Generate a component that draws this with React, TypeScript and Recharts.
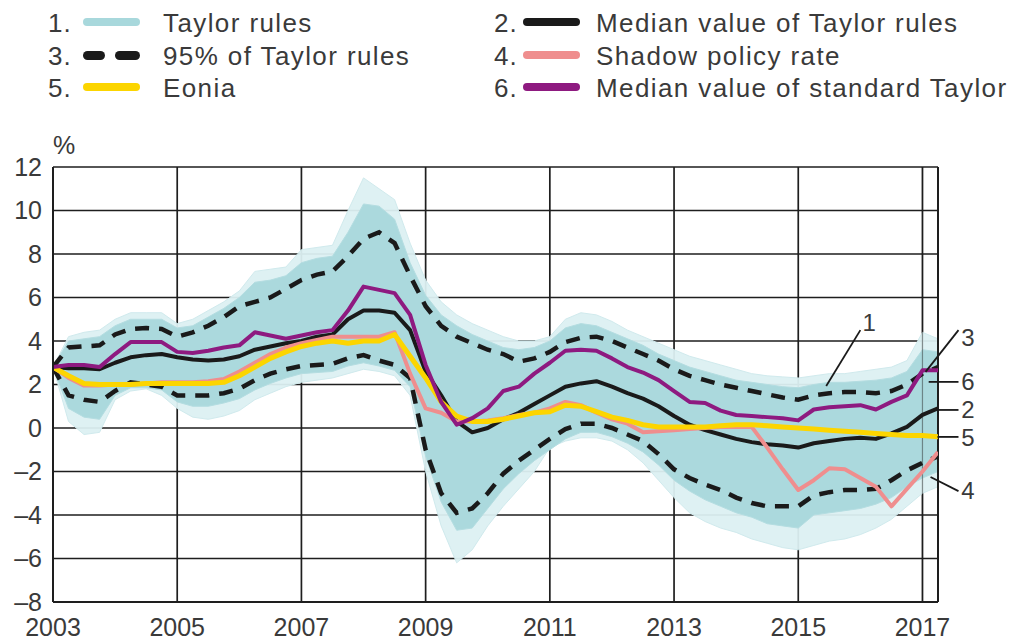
import React from 'react';
import {
  ComposedChart, Line, Area, XAxis, YAxis, CartesianGrid, ReferenceLine, ReferenceDot,
} from 'recharts';

// quarterly observations, 2003Q1 .. 2017Q2
const quarters = [
  2003, 2003.25, 2003.5, 2003.75, 2004, 2004.25, 2004.5, 2004.75,
  2005, 2005.25, 2005.5, 2005.75, 2006, 2006.25, 2006.5, 2006.75,
  2007, 2007.25, 2007.5, 2007.75, 2008, 2008.25, 2008.5, 2008.75,
  2009, 2009.25, 2009.5, 2009.75, 2010, 2010.25, 2010.5, 2010.75,
  2011, 2011.25, 2011.5, 2011.75, 2012, 2012.25, 2012.5, 2012.75,
  2013, 2013.25, 2013.5, 2013.75, 2014, 2014.25, 2014.5, 2014.75,
  2015, 2015.25, 2015.5, 2015.75, 2016, 2016.25, 2016.5, 2016.75,
  2017, 2017.25,
];

// 1. Taylor rules fan: outer envelope (faint fringe) and dense core
const fanMax = [2.8, 4.2, 4.4, 4.5, 5.0, 5.3, 5.3, 5.3, 4.8, 5.0, 5.4, 5.8, 6.3, 7.2, 7.3, 7.4, 8.2, 8.3, 8.4, 10.0, 11.5, 11.0, 10.5, 8.5, 6.8, 5.8, 5.2, 4.8, 4.5, 4.2, 4.0, 4.0, 4.2, 5.0, 5.3, 5.2, 4.9, 4.5, 4.2, 3.9, 3.6, 3.3, 3.1, 2.9, 2.7, 2.5, 2.4, 2.35, 2.3, 2.4, 2.5, 2.5, 2.6, 2.7, 2.8, 3.1, 4.4, 4.1];
const fanMin = [2.8, 0.3, -0.3, -0.2, 1.3, 1.7, 1.8, 1.5, 0.9, 0.5, 0.4, 0.55, 0.8, 1.3, 1.6, 1.9, 2.1, 2.2, 2.3, 2.5, 2.7, 2.6, 2.4, 1.5, -2.0, -4.5, -6.2, -5.6, -4.5, -3.6, -2.8, -2.0, -0.9, -0.6, -0.45, -0.45, -0.6, -1.0, -1.6, -2.4, -3.2, -3.9, -4.3, -4.6, -4.8, -5.1, -5.3, -5.5, -5.6, -5.4, -5.2, -5.1, -4.9, -4.6, -4.2, -3.6, -3.0, -2.7];
const coreHigh = [2.8, 4.0, 4.1, 4.2, 4.7, 5.0, 5.0, 5.0, 4.6, 4.7, 5.1, 5.5, 6.0, 6.7, 6.8, 7.0, 7.6, 7.8, 7.9, 9.0, 10.3, 10.2, 9.6, 7.6, 6.1, 5.2, 4.7, 4.3, 4.0, 3.7, 3.6, 3.7, 4.0, 4.6, 4.8, 4.7, 4.4, 4.1, 3.8, 3.4, 3.1, 2.8, 2.6, 2.4, 2.2, 2.1, 2.0, 1.9, 1.85, 2.0, 2.1, 2.1, 2.15, 2.2, 2.3, 2.6, 3.6, 3.5];
const coreLow = [2.8, 0.9, 0.5, 0.4, 1.5, 1.85, 1.85, 1.75, 1.2, 1.0, 1.0, 1.15, 1.35, 1.75, 2.05, 2.3, 2.5, 2.55, 2.6, 2.85, 3.0, 2.85, 2.65, 1.9, -1.3, -3.4, -4.7, -4.6, -3.7, -2.8, -2.1, -1.5, -1.0, -0.5, -0.2, -0.2, -0.4, -0.7, -1.1, -1.7, -2.4, -2.9, -3.3, -3.6, -3.9, -4.1, -4.4, -4.5, -4.6, -4.0, -3.9, -3.8, -3.7, -3.5, -3.2, -2.7, -2.3, -2.0];

// 2. Median value of Taylor rules
const medianTaylor = [2.8, 2.75, 2.75, 2.7, 3.0, 3.25, 3.35, 3.4, 3.25, 3.15, 3.1, 3.15, 3.3, 3.6, 3.75, 3.9, 4.0, 4.2, 4.3, 5.0, 5.4, 5.4, 5.3, 4.5, 2.6, 1.5, 0.3, -0.2, 0.0, 0.4, 0.7, 1.1, 1.5, 1.9, 2.05, 2.15, 1.9, 1.6, 1.35, 1.0, 0.55, 0.15, -0.1, -0.3, -0.5, -0.65, -0.75, -0.8, -0.9, -0.7, -0.6, -0.5, -0.45, -0.5, -0.25, 0.05, 0.6, 0.9];

// 3. 95% of Taylor rules (upper / lower)
const upper95 = [2.8, 3.7, 3.75, 3.8, 4.3, 4.55, 4.6, 4.55, 4.2, 4.4, 4.7, 5.1, 5.6, 5.8, 6.0, 6.4, 6.8, 7.05, 7.2, 7.9, 8.7, 9.0, 8.5, 7.0, 5.6, 4.7, 4.2, 3.9, 3.6, 3.4, 3.05, 3.2, 3.5, 3.95, 4.15, 4.2, 4.0, 3.7, 3.4, 3.1, 2.7, 2.4, 2.2, 2.0, 1.85, 1.7, 1.55, 1.4, 1.3, 1.5, 1.6, 1.65, 1.65, 1.6, 1.7, 2.0, 2.5, 2.8];
const lower95 = [2.8, 1.5, 1.3, 1.2, 1.7, 2.1, 2.0, 1.9, 1.5, 1.5, 1.5, 1.6, 1.8, 2.2, 2.5, 2.7, 2.85, 2.9, 2.95, 3.2, 3.35, 3.1, 2.9, 2.3, -1.0, -3.0, -3.9, -3.7, -3.0, -2.1, -1.5, -1.0, -0.5, -0.05, 0.2, 0.2, 0.0, -0.3, -0.6, -1.2, -1.9, -2.3, -2.6, -2.85, -3.2, -3.45, -3.6, -3.6, -3.6, -3.1, -2.95, -2.85, -2.85, -2.8, -2.4, -1.95, -1.6, -1.3];

// 4. Shadow policy rate
const shadowRate = [2.8, 2.3, 1.95, 1.95, 2.0, 2.0, 2.05, 2.1, 2.1, 2.1, 2.15, 2.25, 2.6, 3.0, 3.4, 3.7, 3.9, 4.05, 4.2, 4.2, 4.2, 4.2, 4.4, 2.5, 0.9, 0.7, 0.3, 0.3, 0.35, 0.45, 0.6, 0.7, 0.9, 1.2, 1.05, 0.7, 0.4, 0.2, -0.2, -0.15, -0.1, -0.05, 0.0, 0.05, 0.05, 0.05, -0.9, -1.9, -2.85, -2.4, -1.85, -1.9, -2.3, -2.7, -3.6, -2.8, -2.0, -1.1];

// 5. Eonia
const eonia = [2.8, 2.4, 2.05, 2.0, 2.0, 2.0, 2.05, 2.05, 2.05, 2.05, 2.05, 2.1, 2.4, 2.8, 3.2, 3.5, 3.75, 3.9, 4.0, 3.9, 4.0, 4.0, 4.3, 3.3, 2.3, 1.2, 0.55, 0.3, 0.3, 0.4, 0.55, 0.7, 0.75, 1.05, 1.0, 0.75, 0.5, 0.35, 0.15, 0.05, 0.05, 0.05, 0.05, 0.1, 0.15, 0.15, 0.1, 0.05, 0.0, -0.05, -0.1, -0.15, -0.2, -0.25, -0.3, -0.35, -0.35, -0.4];

// 6. Median value of standard Taylor
const medianStandard = [2.8, 2.9, 2.9, 2.8, 3.4, 3.95, 3.95, 3.95, 3.5, 3.45, 3.55, 3.7, 3.8, 4.4, 4.25, 4.1, 4.25, 4.4, 4.5, 5.4, 6.5, 6.35, 6.2, 5.2, 2.9, 1.2, 0.15, 0.45, 0.9, 1.7, 1.9, 2.5, 3.0, 3.55, 3.6, 3.55, 3.2, 2.8, 2.55, 2.2, 1.7, 1.2, 1.15, 0.8, 0.6, 0.55, 0.5, 0.45, 0.35, 0.85, 0.95, 1.0, 1.05, 0.85, 1.2, 1.5, 2.65, 2.65];

const xTicks = [2003, 2005, 2007, 2009, 2011, 2013, 2015, 2017];
const yTicks = [-8, -6, -4, -2, 0, 2, 4, 6, 8, 10, 12];

const legendItems = [
  { num: '1.', label: 'Taylor rules', color: '#a8d8dc', dashed: false },
  { num: '2.', label: 'Median value of Taylor rules', color: '#1a1a1a', dashed: false },
  { num: '3.', label: '95% of Taylor rules', color: '#1a1a1a', dashed: true },
  { num: '4.', label: 'Shadow policy rate', color: '#ef8e8e', dashed: false },
  { num: '5.', label: 'Eonia', color: '#fcd500', dashed: false },
  { num: '6.', label: 'Median value of standard Taylor', color: '#8e1a80', dashed: false },
];

// numbered call-outs on the right of the plot (data coordinates)
const callouts = [
  { label: '1', from: [2015.45, 1.93], to: [2016.0, 4.5], text: [2016.14, 4.85] },
  { label: '3', from: [2017.05, 2.58], to: [2017.58, 4.5], text: [2017.73, 4.18] },
  { label: '6', from: [2017.1, 2.12], to: [2017.58, 2.12], text: [2017.73, 2.12] },
  { label: '2', from: [2017.24, 0.83], to: [2017.58, 0.83], text: [2017.73, 0.83] },
  { label: '5', from: [2017.24, -0.41], to: [2017.58, -0.41], text: [2017.73, -0.45] },
  { label: '4', from: [2017.13, -2.25], to: [2017.58, -2.9], text: [2017.73, -2.85] },
];

const data = quarters.map((q, i) => ({
  q,
  outer: [fanMin[i], fanMax[i]],
  core: [coreLow[i], coreHigh[i]],
  median: medianTaylor[i],
  up: upper95[i],
  lo: lower95[i],
  shadow: shadowRate[i],
  eonia: eonia[i],
  std: medianStandard[i],
}));

const FONT = '"Liberation Sans", Arial, Helvetica, sans-serif';
const TEXT = '#3a3a3a';

const Swatch = ({ color, dashed }: { color: string; dashed: boolean }) =>
  dashed ? (
    <div style={{ position: 'relative', width: 57, height: 9 }}>
      <div style={{ position: 'absolute', left: 0, top: 0, width: 22, height: 9, borderRadius: 5, background: color }} />
      <div style={{ position: 'absolute', left: 32, top: 0, width: 25, height: 9, borderRadius: 5, background: color }} />
    </div>
  ) : (
    <div style={{ width: 57, height: 8, borderRadius: 4, background: color }} />
  );

const fmtY = (v: number) => (v < 0 ? '\u2013' + Math.abs(v) : String(v));

export default function App() {
  const rowTops = [10, 43, 75];
  return (
    <div style={{ position: 'absolute', left: 0, top: 0, width: 1015, height: 641, background: '#fff', fontFamily: FONT, overflow: 'hidden' }}>
      {legendItems.map((it, i) => {
        const col = i % 2;
        const row = Math.floor(i / 2);
        const numLeft = col === 0 ? 48 : 494;
        const swLeft = col === 0 ? 83 : 523;
        const txtLeft = col === 0 ? 163 : 596;
        const top = rowTops[row];
        return (
          <React.Fragment key={it.num}>
            <div style={{ position: 'absolute', left: numLeft, top, fontSize: 26, lineHeight: '26px', color: TEXT, letterSpacing: 1 }}>{it.num}</div>
            <div style={{ position: 'absolute', left: swLeft, top: top + 8 }}>
              <Swatch color={it.color} dashed={it.dashed} />
            </div>
            <div style={{ position: 'absolute', left: txtLeft, top, fontSize: 26, lineHeight: '26px', color: TEXT, letterSpacing: 1.4, whiteSpace: 'nowrap' }}>{it.label}</div>
          </React.Fragment>
        );
      })}
      <div style={{ position: 'absolute', left: 53, top: 133, fontSize: 25, lineHeight: '25px', color: TEXT }}>%</div>
      <div style={{ position: 'absolute', left: 0, top: 0 }}>
        <ComposedChart width={1015} height={641} data={data} margin={{ top: 167, right: 77, bottom: 0, left: 0 }}>
          <CartesianGrid stroke="#1e1e1e" strokeWidth={1.7} verticalValues={xTicks} horizontalValues={yTicks} />
          <XAxis
            dataKey="q"
            type="number"
            domain={[2003, 2017.25]}
            ticks={xTicks}
            allowDataOverflow
            height={39}
            tickLine={false}
            tickSize={0}
            tickMargin={16}
            axisLine={{ stroke: '#1e1e1e', strokeWidth: 2 }}
            tick={{ fill: TEXT, fontSize: 25, fontFamily: FONT }}
            interval={0}
          />
          <YAxis
            type="number"
            domain={[-8, 12]}
            ticks={yTicks}
            allowDataOverflow
            width={53}
            tickLine={false}
            tickSize={0}
            tickMargin={11}
            axisLine={{ stroke: '#1e1e1e', strokeWidth: 2 }}
            tick={{ fill: TEXT, fontSize: 25, fontFamily: FONT }}
            tickFormatter={fmtY}
            interval={0}
          />
          <Area dataKey="outer" type="linear" stroke="#d0eaed" strokeWidth={1} fill="#dcf0f2" fillOpacity={0.95} isAnimationActive={false} />
          <Area dataKey="core" type="linear" stroke="#b4dde1" strokeWidth={1} fill="#abd9dd" fillOpacity={1} isAnimationActive={false} />
          <ReferenceLine x={2017.25} stroke="#1e1e1e" strokeWidth={2} />
          <ReferenceLine x={2017} stroke="#1e1e1e" strokeWidth={1.2} strokeOpacity={0.45} />
          <Line dataKey="up" type="linear" stroke="#1a1a1a" strokeWidth={4.5} strokeDasharray="14 10" dot={false} isAnimationActive={false} />
          <Line dataKey="lo" type="linear" stroke="#1a1a1a" strokeWidth={4.5} strokeDasharray="14 10" dot={false} isAnimationActive={false} />
          <Line dataKey="median" type="linear" stroke="#1a1a1a" strokeWidth={4} strokeLinejoin="round" dot={false} isAnimationActive={false} />
          <Line dataKey="shadow" type="linear" stroke="#ef8e8e" strokeWidth={4} strokeLinejoin="round" dot={false} isAnimationActive={false} />
          <Line dataKey="eonia" type="linear" stroke="#fcd500" strokeWidth={5} strokeLinejoin="round" dot={false} isAnimationActive={false} />
          <Line dataKey="std" type="linear" stroke="#8e1a80" strokeWidth={4} strokeLinejoin="round" dot={false} isAnimationActive={false} />
          {callouts.map((c) => (
            <ReferenceLine
              key={'l' + c.label}
              segment={[{ x: c.from[0], y: c.from[1] }, { x: c.to[0], y: c.to[1] }]}
              stroke="#1a1a1a"
              strokeWidth={1.8}
              ifOverflow="visible"
            />
          ))}
          {callouts.map((c) => (
            <ReferenceDot
              key={'d' + c.label}
              x={c.text[0]}
              y={c.text[1]}
              r={0}
              fill="none"
              stroke="none"
              ifOverflow="visible"
              label={{ value: c.label, position: 'center', fill: TEXT, fontSize: 24, fontFamily: FONT }}
            />
          ))}
        </ComposedChart>
      </div>
    </div>
  );
}
